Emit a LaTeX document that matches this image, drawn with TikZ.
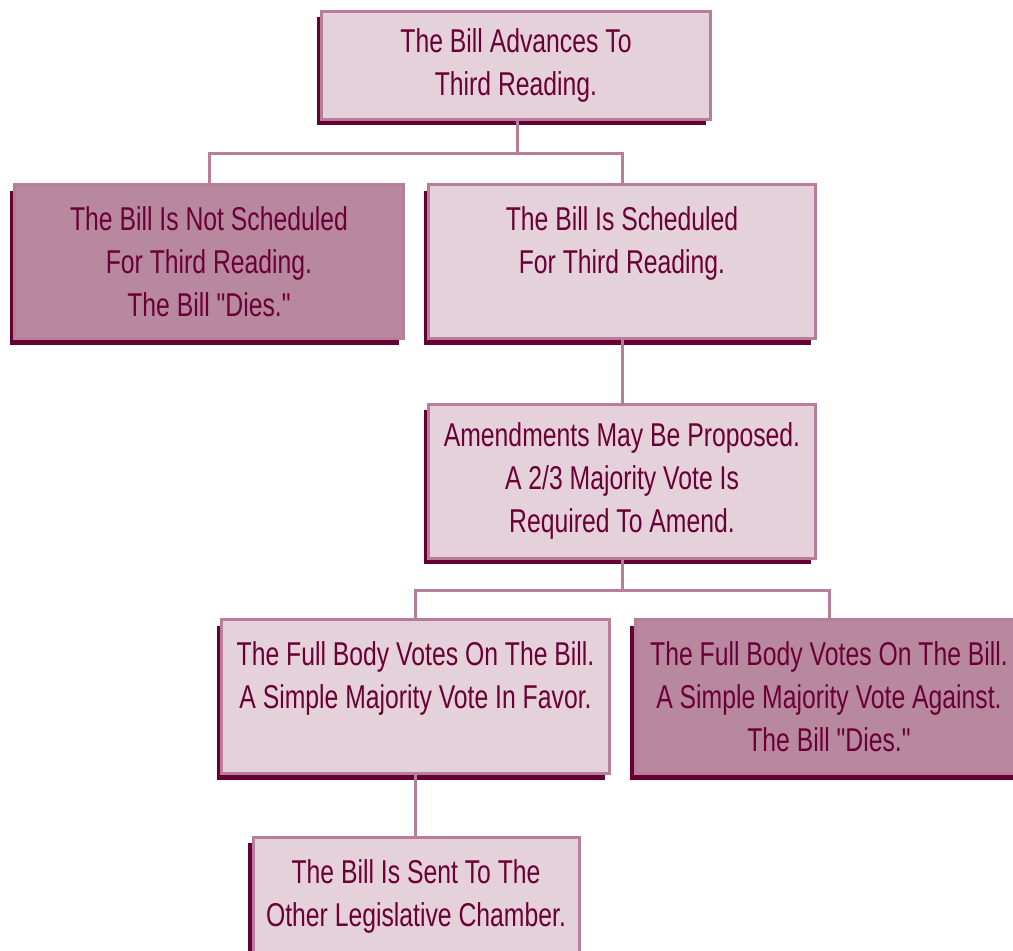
\documentclass[tikz,border=0pt]{standalone}
\usepackage{fontspec}
\setmainfont[FakeStretch=0.75,Ligatures=TeXOff]{Liberation Sans}
\usetikzlibrary{shadows}
\definecolor{lightfill}{HTML}{E4D1DA}
\definecolor{darkfill}{HTML}{B8889F}
\definecolor{edgec}{HTML}{B67E98}
\definecolor{shadowc}{HTML}{660033}
\definecolor{textc}{HTML}{6B0036}
\newcommand{\dieline}{The Bill "Dies."}
\tikzset{
  box/.style={draw=edgec, line width=3pt, align=center, text=textc,
    font=\fontsize{33}{43}\selectfont, inner sep=0pt,
    drop shadow={shadow xshift=-5pt, shadow yshift=-6pt, fill=shadowc, opacity=1}},
  lightbox/.style={box, fill=lightfill},
  darkbox/.style={box, fill=darkfill},
  conn/.style={draw=edgec, line width=3pt}
}
\begin{document}
\begin{tikzpicture}[x=1pt,y=-1pt]
\useasboundingbox (0,0) rectangle (1013,951);
\clip (0,0) rectangle (1013,951);
\node[lightbox, minimum width=389pt, minimum height=108pt] (top) at (516,65) {The Bill Advances To\\Third Reading.};
\node[darkbox, minimum width=389pt, minimum height=154pt] (not) at (209,261.5) {The Bill Is Not Scheduled\\For Third Reading.\\\dieline};
\node[lightbox, minimum width=387pt, minimum height=154pt] (sched) at (622,261.5) {The Bill Is Scheduled\\For Third Reading.\\\phantom{\dieline}};
\node[lightbox, minimum width=387pt, minimum height=154pt] (amend) at (622,481) {Amendments May Be Proposed.\\A 2/3 Majority Vote Is\\Required To Amend.};
\node[lightbox, minimum width=388pt, minimum height=154pt] (favor) at (415.5,696.5) {The Full Body Votes On The Bill.\\A Simple Majority Vote In Favor.\\\phantom{\dieline}};
\node[darkbox, minimum width=388pt, minimum height=154pt] (against) at (829,696.5) {The Full Body Votes On The Bill.\\A Simple Majority Vote Against.\\\dieline};
\node[lightbox, minimum width=326pt, minimum height=140pt, text depth=27pt] (sent) at (416,907) {The Bill Is Sent To The\\Other Legislative Chamber.};
\coordinate (j1) at (517,153);
\coordinate (j2) at (622,590);
\draw[conn] (top.south -| j1) -- (j1) -- (j1 -| not.north) -- (not.north);
\draw[conn] (j1) -- (j1 -| sched.north) -- (sched.north);
\draw[conn] (sched.south) -- (amend.north);
\draw[conn] (amend.south) -- (j2) -- (j2 -| favor.north) -- (favor.north);
\draw[conn] (j2) -- (j2 -| against.north) -- (against.north);
\draw[conn] (favor.south) -- (favor.south |- sent.north);
\end{tikzpicture}
\end{document}
